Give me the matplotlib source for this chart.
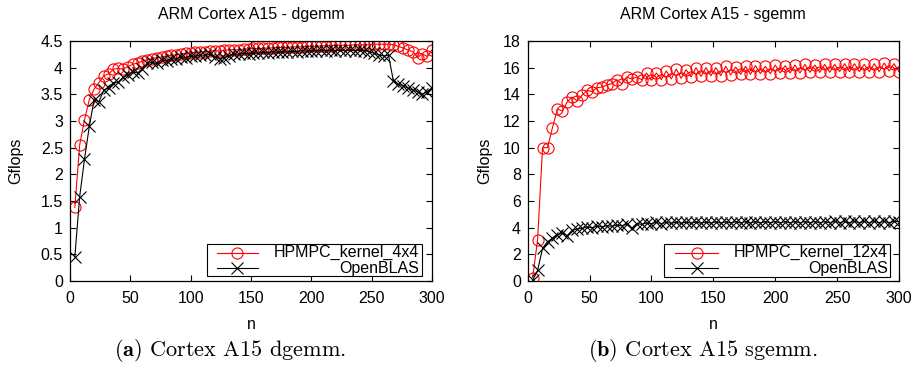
import matplotlib
matplotlib.use("Agg")
import matplotlib.pyplot as plt
from matplotlib.lines import Line2D
from matplotlib.patches import Rectangle
from matplotlib.ticker import FormatStrFormatter, MultipleLocator

plt.rcParams['font.family'] = ['Liberation Sans', 'DejaVu Sans']
plt.rcParams['mathtext.fontset'] = 'cm'

# matrix size n = 4, 8, ..., 300
n = list(range(4, 301, 4))

dgemm_hpmpc = [
    1.38, 2.55, 3.02, 3.40, 3.60, 3.72, 3.85, 3.88, 3.97, 3.99,
    3.97, 4.02, 4.06, 4.09, 4.12, 4.15, 4.17, 4.19, 4.20, 4.22,
    4.23, 4.24, 4.26, 4.27, 4.28, 4.29, 4.29, 4.30, 4.31, 4.32,
    4.31, 4.33, 4.33, 4.34, 4.33, 4.35, 4.35, 4.36, 4.36, 4.36,
    4.37, 4.37, 4.38, 4.38, 4.38, 4.39, 4.39, 4.39, 4.40, 4.40,
    4.40, 4.41, 4.41, 4.41, 4.42, 4.42, 4.42, 4.42, 4.43, 4.43,
    4.43, 4.43, 4.44, 4.44, 4.44, 4.44, 4.43, 4.40, 4.37, 4.33,
    4.30, 4.19, 4.26, 4.21, 4.33,
]
dgemm_openblas = [
    0.45, 1.58, 2.28, 2.90, 3.40, 3.36, 3.58, 3.62, 3.72, 3.73,
    3.82, 3.86, 3.92, 3.90, 3.98, 4.08, 4.10, 4.08, 4.15, 4.13,
    4.17, 4.16, 4.20, 4.19, 4.22, 4.21, 4.24, 4.23, 4.25, 4.20,
    4.17, 4.19, 4.22, 4.26, 4.25, 4.27, 4.26, 4.28, 4.27, 4.29,
    4.28, 4.30, 4.29, 4.30, 4.29, 4.31, 4.30, 4.32, 4.31, 4.32,
    4.31, 4.33, 4.32, 4.33, 4.32, 4.33, 4.32, 4.33, 4.32, 4.33,
    4.32, 4.30, 4.27, 4.24, 4.22, 4.23, 3.75, 3.69, 3.66, 3.62,
    3.58, 3.55, 3.50, 3.55, 3.62,
]
sgemm_hpmpc = [
    0.25, 3.10, 10.0, 10.0, 11.5, 12.9, 12.75, 13.45, 13.8, 13.5,
    13.95, 14.3, 14.2, 14.5, 14.55, 14.7, 14.8, 15.1, 14.8, 15.3,
    15.15, 15.3, 15.1, 15.6, 15.05, 15.6, 15.1, 15.75, 15.15, 15.9,
    15.2, 15.85, 15.3, 16.0, 15.35, 16.0, 15.4, 16.0, 15.4, 16.1,
    15.45, 16.05, 15.5, 16.1, 15.5, 16.15, 15.55, 16.1, 15.55, 16.2,
    15.6, 16.15, 15.6, 16.2, 15.6, 16.25, 15.65, 16.2, 15.65, 16.25,
    15.65, 16.25, 15.7, 16.3, 15.7, 16.3, 15.7, 16.25, 15.7, 16.3,
    15.7, 16.35, 15.75, 16.3, 15.7,
]
sgemm_openblas = [
    0.05, 0.80, 2.45, 2.95, 3.20, 3.45, 3.60, 3.40, 3.80, 3.90,
    3.95, 4.05, 4.00, 4.10, 4.05, 4.15, 4.10, 4.20, 4.15, 4.25,
    3.95, 4.30, 4.25, 4.35, 4.30, 4.40, 4.30, 4.40, 4.32, 4.42,
    4.32, 4.42, 4.33, 4.43, 4.33, 4.43, 4.34, 4.44, 4.34, 4.44,
    4.35, 4.45, 4.35, 4.45, 4.35, 4.45, 4.35, 4.45, 4.36, 4.46,
    4.36, 4.46, 4.36, 4.46, 4.36, 4.46, 4.36, 4.46, 4.36, 4.46,
    4.37, 4.47, 4.37, 4.47, 4.37, 4.47, 4.37, 4.47, 4.37, 4.47,
    4.37, 4.47, 4.37, 4.47, 4.45,
]

RED = '#ff0000'
BLACK = '#000000'
FS = 11.5
hp_style = dict(color=RED, marker='o', markersize=8, markerfacecolor='none',
                markeredgewidth=0.8, linewidth=0.8)
ob_style = dict(color=BLACK, marker='x', markersize=8,
                markeredgewidth=0.8, linewidth=0.8)


def style_axes(ax, ymax, ystep, title, ylabel_x):
    ax.set_xlim(0, 300)
    ax.set_ylim(0, ymax)
    ax.xaxis.set_major_locator(MultipleLocator(50))
    ax.yaxis.set_major_locator(MultipleLocator(ystep))
    ax.yaxis.set_major_formatter(FormatStrFormatter('%g'))
    ax.tick_params(direction='in', top=True, right=True, length=4.5,
                   width=0.8, labelsize=FS)
    ax.tick_params(axis='x', pad=7)
    ax.tick_params(axis='y', pad=5)
    for s in ax.spines.values():
        s.set_linewidth(0.9)
    ax.set_title(title, fontsize=FS, pad=16)
    ax.set_xlabel('n', fontsize=FS)
    ax.xaxis.set_label_coords(0.5, -0.15)
    ax.set_ylabel('Gflops', fontsize=FS)
    ax.yaxis.set_label_coords(ylabel_x, 0.5)


def draw_key(ax, labels, styles, box, handle_x, text_x, rows):
    # gnuplot-like key: sample on the left, right-aligned text
    x0, y0, x1, y1 = box
    ax.add_patch(Rectangle((x0, y0), x1 - x0, y1 - y0, transform=ax.transAxes,
                           facecolor='white', edgecolor='black',
                           linewidth=0.8, zorder=5))
    for label, st, y in zip(labels, styles, rows):
        ax.add_line(Line2D(handle_x, [y, y], transform=ax.transAxes,
                           zorder=6, **{k: v for k, v in st.items()
                                        if k != 'marker'}))
        ax.add_line(Line2D([sum(handle_x) / 2], [y], transform=ax.transAxes,
                           zorder=6, **st))
        ax.text(text_x, y, label, transform=ax.transAxes, ha='right',
                va='center', fontsize=FS, zorder=7)


fig = plt.figure(figsize=(9.14, 3.70), dpi=100)
ax_d = fig.add_axes((70 / 914, 89 / 370, 362 / 914, 240 / 370))
ax_s = fig.add_axes((527.7 / 914, 89 / 370, 371.3 / 914, 240 / 370))

ax_d.plot(n, dgemm_hpmpc, **hp_style)
ax_d.plot(n, dgemm_openblas, **ob_style)
style_axes(ax_d, 4.5, 0.5, 'ARM Cortex A15 - dgemm', -0.13)
draw_key(ax_d, ['HPMPC_kernel_4x4', 'OpenBLAS'], [hp_style, ob_style],
         (0.378, 0.021, 0.972, 0.153), [0.405, 0.519], 0.964, [0.118, 0.053])

ax_s.plot(n, sgemm_hpmpc, **hp_style)
ax_s.plot(n, sgemm_openblas, **ob_style)
style_axes(ax_s, 18, 2, 'ARM Cortex A15 - sgemm', -0.095)
draw_key(ax_s, ['HPMPC_kernel_12x4', 'OpenBLAS'], [hp_style, ob_style],
         (0.367, 0.018, 0.976, 0.153), [0.397, 0.513], 0.971, [0.118, 0.053])

fig.text(0.252, 0.052, r'$\mathbf{(a)}$ Cortex A15 dgemm.', family='cmr10',
         ha='center', va='center', fontsize=16)
fig.text(0.769, 0.052, r'$\mathbf{(b)}$ Cortex A15 sgemm.', family='cmr10',
         ha='center', va='center', fontsize=16)

fig.savefig('out.png', dpi=100)
